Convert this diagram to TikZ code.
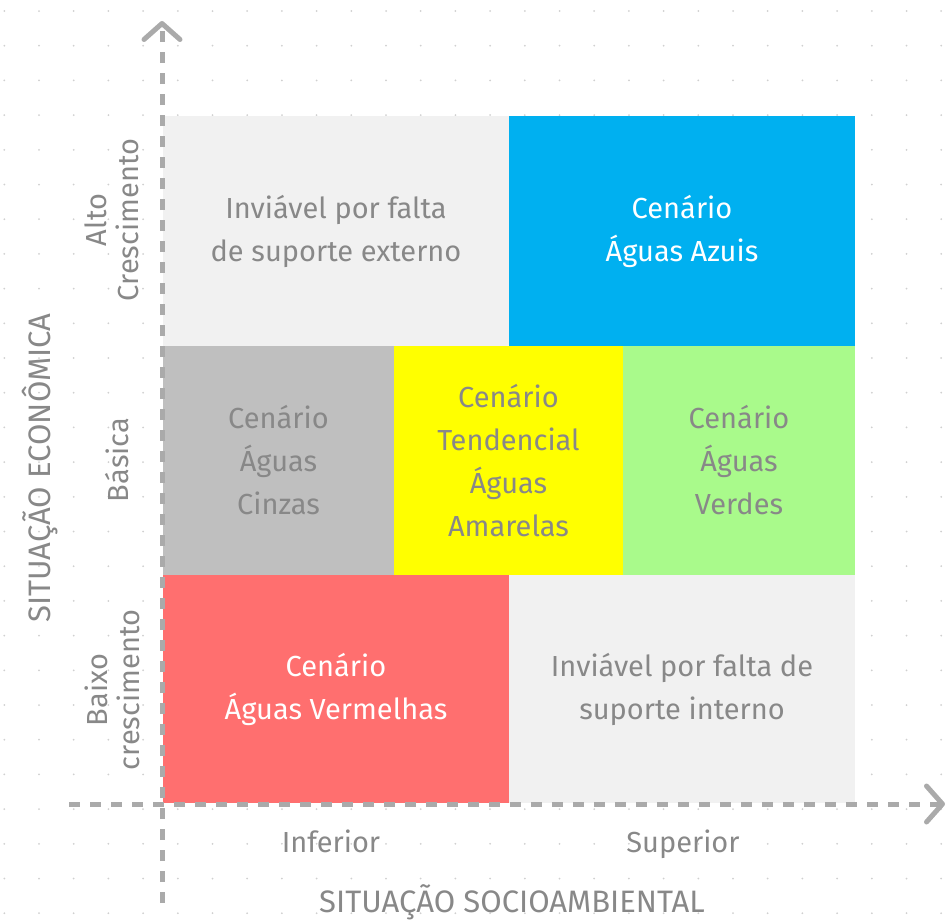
\documentclass[tikz,border=0pt]{standalone}
\usepackage{fontspec}
\setmainfont{Fira Sans}
\usetikzlibrary{arrows.meta}
\definecolor{celllight}{HTML}{F1F1F1}
\definecolor{cellblue}{HTML}{00B0F0}
\definecolor{cellgray}{HTML}{BFBFBF}
\definecolor{cellyellow}{HTML}{FFFF00}
\definecolor{cellgreen}{HTML}{A9FA8B}
\definecolor{cellred}{HTML}{FF6F6F}
\definecolor{txtgray}{HTML}{888888}
\definecolor{axisgray}{HTML}{AAAAAA}
\definecolor{dotgray}{HTML}{D0D0D0}
\begin{document}
\begin{tikzpicture}[x=1pt, y=-1pt,
        cell/.style={inner sep=0pt, align=center, font=\fontsize{29}{43}\selectfont},
        lbl/.style={text=txtgray, align=center, font=\fontsize{29}{32}\selectfont},
        caps/.style={text=txtgray, font=\fontsize{31}{32}\selectfont},
        axis/.style={axisgray, line width=5pt, dash pattern=on 11pt off 10pt,
            -{Straight Barb[length=16pt, width=36pt, line cap=round, line join=round]}}]
            \useasboundingbox (0,0) rectangle (950,919);

            % Pontos
            \foreach \i in {0,...,27} {
                    \foreach \j in {0,...,26} {
                            \fill[dotgray] ({4.3+34.7*\i},{11+34.7*\j}) circle (1);
                        }
                }

            % Celulas
            \foreach \name/\cx/\cy/\w/\h/\col/\tcol/\txt in {
                    inv1/336/231/346/230/celllight/txtgray/{Inviável por falta\\de suporte externo},
                    azul/682/231/346/230/cellblue/white/{Cenário\\Águas Azuis},
                    cinza/278.5/460.5/231/229/cellgray/txtgray/{Cenário\\Águas\\Cinzas},
                    amar/508.5/460.5/229/229/cellyellow/txtgray/{Cenário\\Tendencial\\Águas\\Amarelas},
                    verde/739/460.5/232/229/cellgreen/txtgray/{Cenário\\Águas\\Verdes},
                    verm/336/689/346/228/cellred/white/{Cenário\\Águas Vermelhas},
                    inv2/682/689/346/228/celllight/txtgray/{Inviável por falta de\\suporte interno}} {
                    \node[cell, fill=\col, text=\tcol, minimum width=\w, minimum height=\h] (\name) at (\cx,\cy) {\txt};
                }

            % Eixos
            \coordinate (ybot) at (162,903);
            \coordinate (ytop) at (162,21);
            \coordinate (xbeg) at (69,804);
            \coordinate (xend) at (945,804);
            \draw[axis] (ybot) -- (ytop);
            \draw[axis] (xbeg) -- (xend);

            % Rotulos
            \node[lbl, rotate=90] (alto) at (112,220) {Alto\\Crescimento};
            \node[lbl, rotate=90] (basica) at (117,460) {Básica};
            \node[lbl, rotate=90] (baixo) at (112,690) {Baixo\\crescimento};
            \node[caps, rotate=90] (econ) at (40,468) {SITUAÇÃO ECONÔMICA};
            \node[lbl, anchor=base] (inf) at (331,852) {Inferior};
            \node[lbl, anchor=base] (sup) at (683,852) {Superior};
            \node[caps, anchor=base] (socio) at (512,912) {SITUAÇÃO SOCIOAMBIENTAL};
        \end{tikzpicture}
\end{document}
